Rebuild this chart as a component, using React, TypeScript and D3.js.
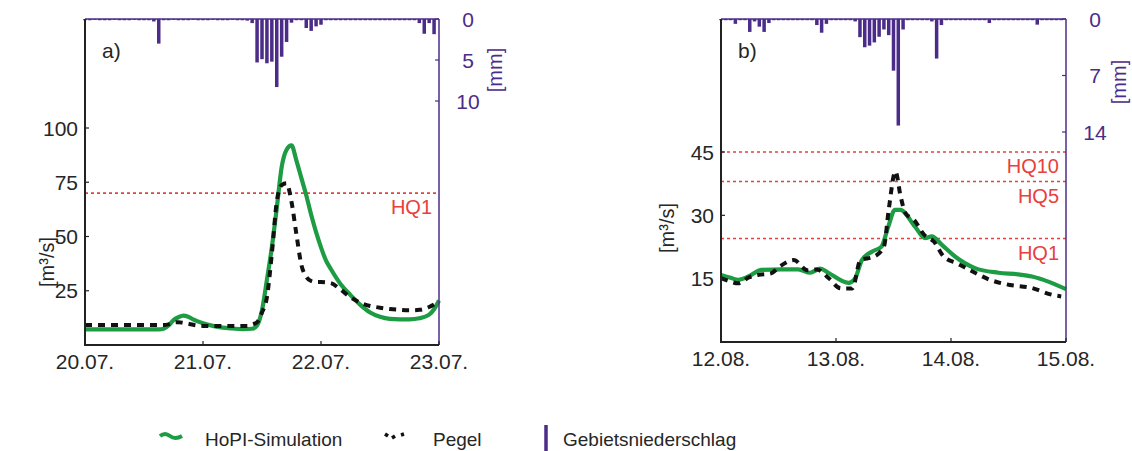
import * as d3 from "d3";
import React from "react";

// hourly areal precipitation [mm], hour 0..71
const precipA = [
  0.15, 0.15, 0.1, 0.15, 0.15, 0.15, 0.1, 0.15, 0.15, 0.15, 0.1, 0.15, 0.15, 0.15,
  0.3, 3.0,
  0.15, 0.15, 0.1, 0.15, 0.15, 0.15, 0.1, 0.15, 0.15, 0.15, 0.1, 0.15, 0.15, 0.15, 0.1, 0.15, 0.15, 0.2,
  0.5, 5.3, 4.9, 5.4, 5.2, 8.3, 4.6, 2.8, 0.45,
  0.15, 0.15,
  1.1, 1.45, 0.9, 0.7,
  0.15, 0.15, 0.15, 0.15, 0.15, 0.15, 0.15, 0.15, 0.15, 0.15, 0.15, 0.15, 0.15, 0.15, 0.15, 0.15, 0.15, 0.15, 0.15,
  0.5, 1.8, 0.5, 1.85,
];
const precipB = [
  0.15, 0.15, 0.15, 0.6, 0.15, 0.15, 1.6, 0.3, 0.95, 1.6, 0.5,
  0.15, 0.15, 0.15, 0.15, 0.15, 0.15, 0.15, 0.15, 0.15,
  0.75, 1.7, 0.6,
  0.15, 0.15, 0.15, 0.15, 0.15, 0.3,
  2.25, 3.5, 3.3, 2.9, 2.2, 1.3, 2.0, 6.4, 13.2, 1.3,
  0.15, 0.15, 0.15, 0.15, 0.15, 0.3,
  4.9, 0.75,
  0.15, 0.15, 0.15, 0.15, 0.15, 0.15, 0.15, 0.15, 0.15,
  0.5,
  0.15, 0.15, 0.15, 0.15, 0.15, 0.15, 0.15, 0.15, 0.15,
  0.7,
  0.15, 0.15, 0.15, 0.15, 0.15,
];

// discharge [m3/s], hours since start of panel
const simHoursA = [0, 15, 16, 17, 18, 19, 20, 21, 22, 24, 26, 28, 30, 32, 34, 35, 36, 37, 38, 39, 40, 41, 42, 43, 44, 45, 46, 47, 48, 49, 50, 52, 54, 56, 58, 60, 62, 64, 66, 68, 70, 71, 72];
const simA = [7.2, 7.2, 7.5, 9, 11.5, 12.8, 13.5, 13, 11.8, 10, 8.8, 8, 7.6, 7.3, 7.5, 9, 16, 30, 45, 63, 82, 90, 92, 85, 77, 69, 60, 52, 45, 39, 35, 28, 23, 18.5, 15, 13, 12, 11.8, 11.8, 12.3, 14, 16.5, 20.5];
const obsHoursA = [0, 16, 17, 18, 19, 20, 21, 22, 24, 28, 33, 34, 35, 36, 37, 38, 39, 40, 41, 42, 43, 44, 45, 46, 47, 48, 50, 52, 54, 56, 58, 60, 62, 64, 66, 68, 70, 72];
const obsA = [9.2, 9.2, 9.5, 10.3, 10.5, 10.2, 9.8, 9.3, 8.8, 8.7, 8.8, 9.5, 10.5, 15, 22, 42, 66, 73.7, 74.5, 66, 51, 37, 31.5, 29.5, 29, 29, 28.5, 25.5, 22, 19.5, 18, 17.2, 16.6, 16.2, 16, 16.2, 17.5, 20];

const simHoursB = [0, 2, 3.6, 5.7, 8.5, 12.7, 16.1, 18.6, 20.7, 22.4, 26.6, 28, 29.4, 31.5, 33.5, 34.9, 36.3, 37.4, 40.5, 42.6, 44, 46.1, 48.9, 53, 57.9, 62.1, 64.9, 68.3, 72];
const simB = [15.9, 15.2, 14.7, 15.5, 17.1, 17.2, 17.2, 16.4, 17.4, 16.4, 14, 15.1, 19.4, 21.4, 22.6, 27.3, 31.3, 31.3, 27.3, 24.6, 25, 23, 20.2, 17.5, 16.4, 16, 15.5, 14.3, 12.5];
const obsHoursB = [0, 1.5, 3.6, 5.8, 7.9, 10.3, 12.4, 15.2, 18, 20, 22.5, 25, 27.4, 29.1, 31.9, 34, 35, 36.4, 37.5, 38.5, 40.3, 42.4, 44.4, 46.5, 49.3, 52, 56.2, 60.3, 64.5, 69.4, 71];
const obsB = [15.1, 14.5, 13.9, 15.3, 15.9, 16.2, 18, 19.4, 17, 17.2, 15.1, 12.7, 12.7, 19.4, 20.2, 22.6, 31.3, 40.4, 34.4, 30.5, 28.9, 25.4, 23.8, 20.2, 18.6, 17, 14.7, 13.5, 12.9, 11.1, 10.8];

const dayLabelsA = ["20.07.", "21.07.", "22.07.", "23.07."];
const dayLabelsB = ["12.08.", "13.08.", "14.08.", "15.08."];
const qTicksA = [25, 50, 75, 100];
const qTicksB = [15, 30, 45];
const pTicksA = [0, 5, 10];
const pTicksB = [0, 7, 14];
const hqNamesA = ["HQ1"];
const hqValuesA = [70];
const hqNamesB = ["HQ10", "HQ5", "HQ1"];
const hqValuesB = [45, 38, 24.5];

const GREEN = "#1d9c44";
const PURPLE = "#4b2c88";
const RED = "#e8403c";
const TXT = "#262626";
const FONT = "Liberation Sans, Arial, sans-serif";
const FS = 21;

function Panel({ left, right, bottom, qMax, qTickPx, pMax, pTickPx, precip, simH, sim, obsH, obs, days, qTicks, pTicks, hqNames, hqValues, tag }) {
  const top = 19;
  const x = d3.scaleLinear().domain([0, 72]).range([left, right]);
  const y = d3.scaleLinear().domain([0, qMax]).range([bottom, qTickPx]);
  const p = d3.scaleLinear().domain([0, pMax]).range([top, pTickPx]);
  const line = d3.line().curve(d3.curveMonotoneX);
  const simPath = line(simH.map((h, i) => [x(h), y(sim[i])]));
  const obsPath = line(obsH.map((h, i) => [x(h), y(obs[i])]));
  const barW = 3.5;
  return (
    <g fontFamily={FONT}>
      {precip.map((v, i) => (
        <rect key={i} x={x(i) - barW / 2} y={top} width={barW} height={p(v) - top} fill={PURPLE} />
      ))}
      {hqValues.map((v, i) => (
        <g key={i}>
          <line x1={left} x2={right} y1={y(v)} y2={y(v)} stroke={RED} strokeWidth={1.6} strokeDasharray="3,3" />
          <text x={right - 7} y={y(v) + 21} textAnchor="end" fontSize={20} fill={RED}>{hqNames[i]}</text>
        </g>
      ))}
      <path d={simPath} fill="none" stroke={GREEN} strokeWidth={4.2} strokeLinejoin="round" />
      <path d={obsPath} fill="none" stroke="#111" strokeWidth={4} strokeDasharray="7,6" />
      {/* axes */}
      <line x1={left} x2={right} y1={top} y2={top} stroke={PURPLE} strokeWidth={1.5} />
      <line x1={right} x2={right} y1={top} y2={bottom} stroke={PURPLE} strokeWidth={1.5} />
      <line x1={left} x2={left} y1={top} y2={bottom + 1} stroke="#222" strokeWidth={2} />
      <line x1={left} x2={right} y1={bottom} y2={bottom} stroke="#222" strokeWidth={2} />
      {qTicks.map((t) => (
        <g key={t}>
          <line x1={left} x2={left + 4} y1={y(t)} y2={y(t)} stroke="#222" strokeWidth={1.2} />
          <text x={left - 7} y={y(t) + 7.5} textAnchor="end" fontSize={FS} fill={TXT}>{t}</text>
        </g>
      ))}
      {days.map((d, i) => (
        <g key={d}>
          <line x1={x(i * 24)} x2={x(i * 24)} y1={bottom} y2={bottom - 4} stroke="#222" strokeWidth={1.2} />
          <text x={x(i * 24)} y={bottom + 24} textAnchor="middle" fontSize={FS} fill={TXT}>{d}</text>
        </g>
      ))}
      {pTicks.map((t) => (
        <g key={t}>
          <line x1={right} x2={right - 4} y1={p(t)} y2={p(t)} stroke={PURPLE} strokeWidth={1.2} />
          <text x={right + 29} y={p(t) + 7.5} textAnchor="middle" fontSize={FS} fill={PURPLE}>{t}</text>
        </g>
      ))}
      <text x={left + 17} y={58} fontSize={FS} fill={TXT}>{tag}</text>
    </g>
  );
}

export default function App() {
  return (
    <svg width={1132} height={451} style={{ position: "absolute", left: 0, top: 0, background: "#fff" }} fontFamily={FONT}>
      <Panel left={85} right={439} bottom={345} qMax={100} qTickPx={128} pMax={10} pTickPx={101}
        precip={precipA} simH={simHoursA} sim={simA} obsH={obsHoursA} obs={obsA}
        days={dayLabelsA} qTicks={qTicksA} pTicks={pTicksA} hqNames={hqNamesA} hqValues={hqValuesA} tag="a)" />
      <Panel left={721} right={1066} bottom={342} qMax={45} qTickPx={152} pMax={14} pTickPx={132}
        precip={precipB} simH={simHoursB} sim={simB} obsH={obsHoursB} obs={obsB}
        days={dayLabelsB} qTicks={qTicksB} pTicks={pTicksB} hqNames={hqNamesB} hqValues={hqValuesB} tag="b)" />
      <text transform="translate(54,262) rotate(-90)" textAnchor="middle" fontSize={20} fill={TXT}>[m³/s]</text>
      <text transform="translate(674,228) rotate(-90)" textAnchor="middle" fontSize={20} fill={TXT}>[m³/s]</text>
      <text transform="translate(502,70) rotate(-90)" textAnchor="middle" fontSize={20} fill={PURPLE}>[mm]</text>
      <text transform="translate(1126,82) rotate(-90)" textAnchor="middle" fontSize={20} fill={PURPLE}>[mm]</text>
      {/* legend */}
      <path d="M160,436 q5,-4 10,0 q5,4 12,0" fill="none" stroke={GREEN} strokeWidth={4} />
      <path d="M385,434 l3,2 M392,438 l3,-2 M401,435 l3,-1" fill="none" stroke="#111" strokeWidth={3.5} />
      <text x={205} y={446} fontSize={19} fill={TXT}>HoPI-Simulation</text>
      <text x={433} y={446} fontSize={19} fill={TXT}>Pegel</text>
      <line x1={546} x2={546} y1={425} y2={451} stroke={PURPLE} strokeWidth={3.5} />
      <text x={563} y={446} fontSize={19} fill={TXT}>Gebietsniederschlag</text>
    </svg>
  );
}
